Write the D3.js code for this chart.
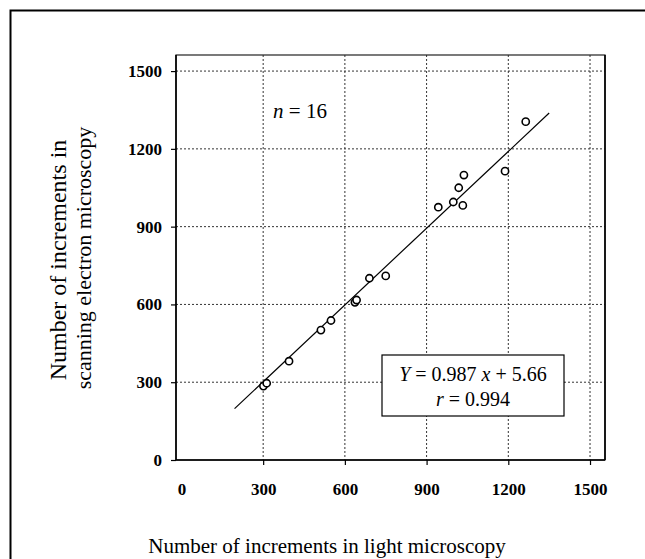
<!DOCTYPE html>
<html><head><meta charset="utf-8">
<script src="https://cdn.jsdelivr.net/npm/d3@7"></script>
<style>body{margin:0;background:#fff}svg{display:block}</style>
</head><body>
<svg id="chart" width="645" height="559"></svg>
<script>
// Data
const lightMicro = [301, 313, 395, 512, 549, 637, 643, 690, 750, 943, 998, 1033, 1018, 1037, 1188, 1264];
const semMicro   = [285, 296, 381, 501, 538, 608, 617, 701, 710, 975, 995, 982, 1050, 1099, 1114, 1305];
const xTicks = [0, 300, 600, 900, 1200, 1500];
const yTicks = [0, 300, 600, 900, 1200, 1500];
const fitSlope = [0.987];
const fitIntercept = [5.66];
const fitRange = [195, 1350];

const svg = d3.select("#chart");
const serif = "'Liberation Serif', 'Times New Roman', serif";
const L = 176, R = 605, T = 55, B = 460;
const x = d3.scaleLinear().domain([-20, 1555]).range([L, R]);
const y = d3.scaleLinear().domain([0, 1562]).range([B, T]);

// outer figure frame
svg.append("rect").attr("x", 10.5).attr("y", 10.5).attr("width", 660).attr("height", 570)
  .attr("fill", "none").attr("stroke", "#000").attr("stroke-width", 2);

// gridlines
const g = svg.append("g");
g.selectAll(".gx").data(xTicks.filter(d => d > 0)).join("line")
  .attr("x1", d => x(d)).attr("x2", d => x(d)).attr("y1", T).attr("y2", B)
  .attr("stroke", "#333").attr("stroke-width", 1).attr("stroke-dasharray", "2,2");
g.selectAll(".gy").data(yTicks.filter(d => d > 0)).join("line")
  .attr("x1", L).attr("x2", R).attr("y1", d => y(d)).attr("y2", d => y(d))
  .attr("stroke", "#333").attr("stroke-width", 1).attr("stroke-dasharray", "2,2");

// plot frame
svg.append("rect").attr("x", L).attr("y", T).attr("width", R - L).attr("height", B - T)
  .attr("fill", "none").attr("stroke", "#222").attr("stroke-width", 1.2);

// axes
const xAxis = d3.axisBottom(x).tickValues(xTicks).tickFormat(d3.format("d")).tickSize(5).tickPadding(18);
const yAxis = d3.axisLeft(y).tickValues(yTicks).tickFormat(d3.format("d")).tickSize(5).tickPadding(9);
const gx = svg.append("g").attr("transform", `translate(0,${B})`).call(xAxis);
const gy = svg.append("g").attr("transform", `translate(${L},0)`).call(yAxis);
[gx, gy].forEach(a => {
  a.attr("font-family", serif).attr("font-size", 17);
  a.select(".domain").remove();
  a.selectAll(".tick line").attr("stroke", "#000").attr("stroke-width", 1.2);
  a.selectAll("text").style("font-family", serif).style("font-weight", "bold")
    .style("font-size", "17px").attr("fill", "#000");
});
gx.select(".tick line").remove();
svg.append("line").attr("x1", L).attr("x2", L).attr("y1", T).attr("y2", B).attr("stroke", "#000").attr("stroke-width", 1.6);
svg.append("line").attr("x1", L).attr("x2", R).attr("y1", B).attr("y2", B).attr("stroke", "#000").attr("stroke-width", 1.6);
svg.append("line").attr("x1", R).attr("x2", R).attr("y1", T).attr("y2", B).attr("stroke", "#000").attr("stroke-width", 1.6);

// regression line
const fit = v => fitSlope[0] * v + fitIntercept[0];
svg.append("line")
  .attr("x1", x(fitRange[0])).attr("y1", y(fit(fitRange[0])))
  .attr("x2", x(fitRange[1])).attr("y2", y(fit(fitRange[1])))
  .attr("stroke", "#000").attr("stroke-width", 1.2);

// points
svg.selectAll(".pt").data(lightMicro.map((v, i) => [v, semMicro[i]])).join("circle")
  .attr("cx", d => x(d[0])).attr("cy", d => y(d[1])).attr("r", 3.6)
  .attr("fill", "#fff").attr("stroke", "#000").attr("stroke-width", 1.6);

// n = 16
const nt = svg.append("text").attr("x", 300).attr("y", 118).attr("text-anchor", "middle")
  .attr("font-family", serif).attr("font-size", 21);
nt.append("tspan").attr("font-style", "italic").text("n");
nt.append("tspan").text(" = 16");

// equation box
svg.append("rect").attr("x", 382).attr("y", 355).attr("width", 182).attr("height", 61)
  .attr("fill", "#fff").attr("stroke", "#000").attr("stroke-width", 1.2);
const e1 = svg.append("text").attr("x", 473).attr("y", 381).attr("text-anchor", "middle")
  .attr("font-family", serif).attr("font-size", 20);
e1.append("tspan").attr("font-style", "italic").text("Y");
e1.append("tspan").text(" = 0.987 ");
e1.append("tspan").attr("font-style", "italic").text("x");
e1.append("tspan").text(" + 5.66");
const e2 = svg.append("text").attr("x", 473).attr("y", 406).attr("text-anchor", "middle")
  .attr("font-family", serif).attr("font-size", 20);
e2.append("tspan").attr("font-style", "italic").text("r");
e2.append("tspan").text(" = 0.994");

// axis titles
svg.append("text").attr("x", 327).attr("y", 553).attr("text-anchor", "middle")
  .attr("font-family", serif).attr("font-size", 21).text("Number of increments in light microscopy");
svg.append("text").attr("transform", "translate(66,260) rotate(-90)").attr("text-anchor", "middle")
  .attr("font-family", serif).attr("font-size", 24).text("Number of increments in");
svg.append("text").attr("transform", "translate(91,258) rotate(-90)").attr("text-anchor", "middle")
  .attr("font-family", serif).attr("font-size", 22).text("scanning electron microscopy");
</script>
</body></html>
